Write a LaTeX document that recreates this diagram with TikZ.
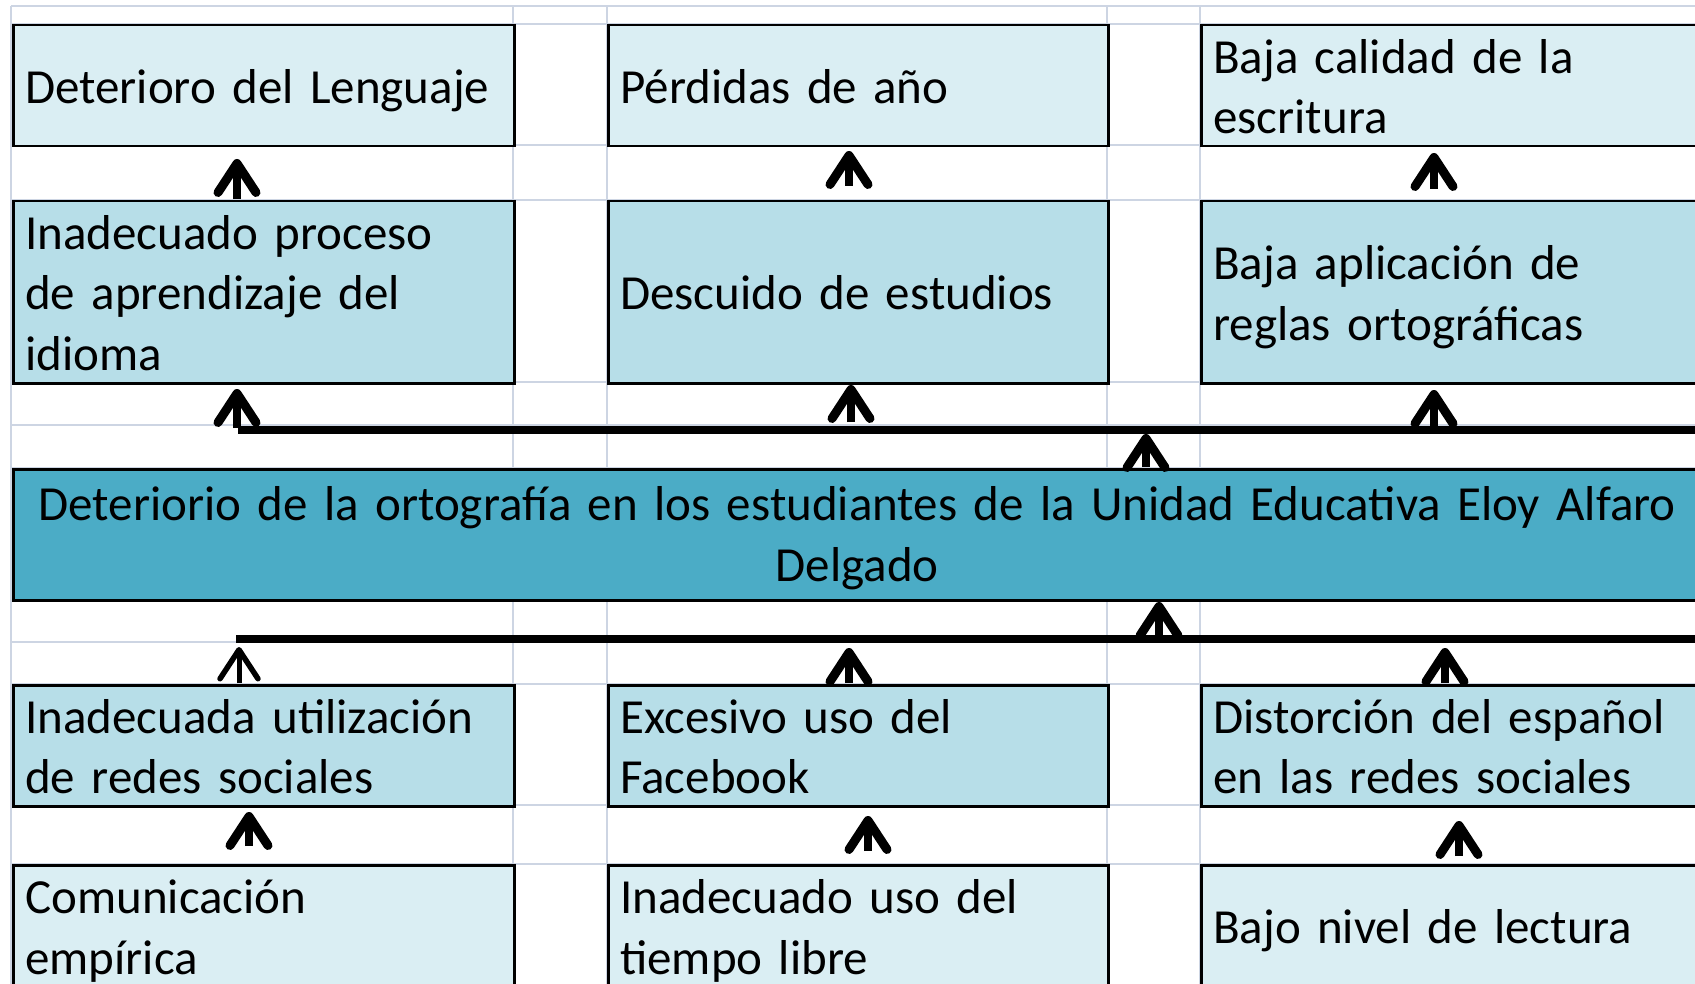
\documentclass[tikz,border=0pt]{standalone}
\usepackage{fontspec}
\setmainfont{Carlito}
\usetikzlibrary{arrows.meta}
\definecolor{lightc}{HTML}{DAEEF3}
\definecolor{midc}{HTML}{B7DEE8}
\definecolor{darkc}{HTML}{4BACC6}
\definecolor{gridc}{HTML}{CDD5E3}
\newcommand\cellfont{\fontsize{49}{60.5}\selectfont}
\newcommand\celltop{\rule{0pt}{47.9pt}}
\newcommand\cellbot{\rule[-12.6pt]{0pt}{0pt}}
\newcommand\coretop{\rule{0pt}{45.5pt}}
\newcommand\corebot{\rule[-15pt]{0pt}{0pt}}
\begin{document}
\begin{tikzpicture}[x=1pt,y=-1pt,
  cell/.style={draw=black, line width=2.5pt, anchor=north west, inner xsep=12pt, inner ysep=0pt,
    align=left, text width=477pt, minimum width=501pt, font=\cellfont,
    execute at begin node={\celltop}, execute at end node={\cellbot}},
  lightbox/.style={cell, fill=lightc},
  midbox/.style={cell, fill=midc},
  corebox/.style={cell, fill=darkc, align=center, text width=1664pt, minimum width=1688pt,
    execute at begin node={\coretop}, execute at end node={\corebot}},
  gridline/.style={draw=gridc, line width=2pt},
  bar/.style={line width=7.5pt},
  arr/.style={line width=8pt, -{Straight Barb[length=29pt,width=38pt,line width=9pt,round]}},
  thinarr/.style={line width=5pt, -{Straight Barb[length=29pt,width=38pt,line width=5.5pt,round]}}
]
\useasboundingbox (0,0) rectangle (1695,984);
\clip (0,0) rectangle (1695,984);
% grid
\foreach \yy in {6,24,145,200,382,425,468,599,642,684,805,864}
  \draw[gridline] (11,\yy) -- (1700,\yy);
\foreach \xx in {11,513,607,1107,1200}
  \draw[gridline] (\xx,6) -- (\xx,990);
% row 1
\node[lightbox, minimum height=121pt] (r1a) at (12,24) {Deterioro del Lenguaje};
\node[lightbox, minimum height=121pt, minimum width=500pt, text width=476pt] (r1b) at (607,24) {Pérdidas de año};
\node[lightbox, minimum height=121pt] (r1c) at (1200,24) {Baja calidad de la\\escritura};
% row 2
\node[midbox, minimum height=182pt] (r2a) at (12,200) {Inadecuado proceso\\de aprendizaje del\\idioma};
\node[midbox, minimum height=182pt, minimum width=500pt, text width=476pt] (r2b) at (607,200) {Descuido de estudios};
\node[midbox, minimum height=182pt] (r2c) at (1200,200) {Baja aplicación de\\reglas ortográficas};
% core problem
\node[corebox, minimum height=131pt] (core) at (12,468)
  {Deteriorio de la ortografía en los estudiantes de la Unidad Educativa Eloy Alfaro\\Delgado};
% row 4
\node[midbox, minimum height=121pt] (r4a) at (12,684) {Inadecuada utilización\\de redes sociales};
\node[midbox, minimum height=121pt, minimum width=500pt, text width=476pt] (r4b) at (607,684) {Excesivo uso del\\Facebook};
\node[midbox, minimum height=121pt] (r4c) at (1200,684) {Distorción del español\\en las redes sociales};
% row 5
\node[lightbox, minimum height=122pt] (r5a) at (12,864) {Comunicación\\empírica};
\node[lightbox, minimum height=122pt, minimum width=500pt, text width=476pt] (r5b) at (607,864) {Inadecuado uso del\\tiempo libre};
\node[lightbox, minimum height=122pt] (r5c) at (1200,864) {Bajo nivel de lectura};
% horizontal bars
\coordinate (ub1) at (238,430); \coordinate (ub2) at (1700,430);
\coordinate (lb1) at (236,639); \coordinate (lb2) at (1700,639);
\draw[bar] (ub1) -- (ub2);
\draw[bar] (lb1) -- (lb2);
% arrow end points
\coordinate (a1s) at (237,199); \coordinate (a1t) at (237,159);
\coordinate (a2s) at (849,186); \coordinate (a2t) at (849,151);
\coordinate (a3s) at (1434,189); \coordinate (a3t) at (1434,153);
\coordinate (b1s) at (237,428); \coordinate (b1t) at (237,389);
\coordinate (b2s) at (851,422); \coordinate (b2t) at (851,385);
\coordinate (b3s) at (1434,428); \coordinate (b3t) at (1434,390);
\coordinate (cs) at (1146,467); \coordinate (ct) at (1146,434);
\coordinate (ds) at (1159,637); \coordinate (dt) at (1159,602);
\coordinate (e1s) at (239,683); \coordinate (e1t) at (239,647);
\coordinate (e2s) at (849,683); \coordinate (e2t) at (849,648);
\coordinate (e3s) at (1445,683); \coordinate (e3t) at (1445,648);
\coordinate (f1s) at (249,846); \coordinate (f1t) at (249,812);
\coordinate (f2s) at (868,851); \coordinate (f2t) at (868,816);
\coordinate (f3s) at (1459,856); \coordinate (f3t) at (1459,821);
\draw[arr] (a1s) -- (a1t);
\draw[arr] (a2s) -- (a2t);
\draw[arr] (a3s) -- (a3t);
\draw[arr] (b1s) -- (b1t);
\draw[arr] (b2s) -- (b2t);
\draw[arr] (b3s) -- (b3t);
\draw[arr] (cs) -- (ct);
\draw[arr] (ds) -- (dt);
\draw[thinarr] (e1s) -- (e1t);
\draw[arr] (e2s) -- (e2t);
\draw[arr] (e3s) -- (e3t);
\draw[arr] (f1s) -- (f1t);
\draw[arr] (f2s) -- (f2t);
\draw[arr] (f3s) -- (f3t);
\end{tikzpicture}
\end{document}
